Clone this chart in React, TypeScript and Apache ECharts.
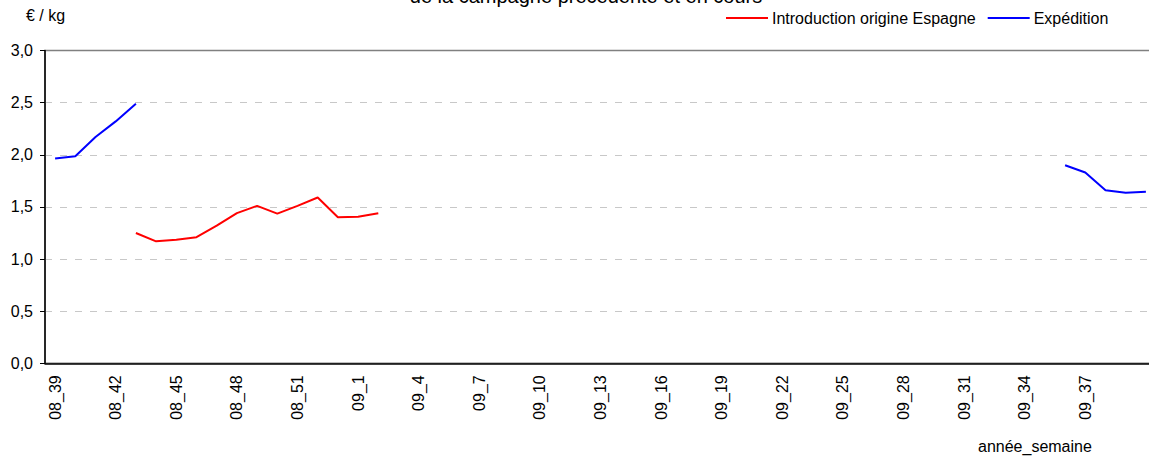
import React, { useEffect, useRef } from "react";
import * as echarts from "echarts";

const weeks2008 = ["08_39","08_40","08_41","08_42","08_43","08_44","08_45","08_46","08_47","08_48","08_49","08_50","08_51","08_52","08_53"];
const weeks2009: string[] = [
  "09_1","09_2","09_3","09_4","09_5","09_6","09_7","09_8","09_9","09_10",
  "09_11","09_12","09_13","09_14","09_15","09_16","09_17","09_18","09_19","09_20",
  "09_21","09_22","09_23","09_24","09_25","09_26","09_27","09_28","09_29","09_30",
  "09_31","09_32","09_33","09_34","09_35","09_36","09_37","09_38","09_39","09_40",
];
const categories = [...weeks2008, ...weeks2009];
const lastLabelled = "09_37";

// Introduction origine Espagne (08_43 .. 09_2)
const introductionStart = "08_43";
const introductionValues = [1.25, 1.17, 1.185, 1.21, 1.32, 1.44, 1.51, 1.435, 1.51, 1.59, 1.40, 1.405, 1.44];

// Expédition: campagne précédente (08_39 .. 08_43) et en cours (09_36 .. 09_40)
const expeditionStart1 = "08_39";
const expeditionValues1 = [1.965, 1.985, 2.17, 2.32, 2.49];
const expeditionStart2 = "09_36";
const expeditionValues2 = [1.9, 1.83, 1.66, 1.635, 1.645];

const yTicks = [0, 0.5, 1, 1.5, 2, 2.5, 3];

function place(parts: [string, number[]][]): (number | null)[] {
  const out: (number | null)[] = categories.map(() => null);
  for (const [start, vals] of parts) {
    const s = categories.indexOf(start);
    vals.forEach((v, i) => (out[s + i] = v));
  }
  return out;
}

const FONT = "'Liberation Sans', Arial, sans-serif";

export default function App() {
  const ref = useRef<HTMLDivElement>(null);
  useEffect(() => {
    if (!ref.current) return;
    const chart = echarts.init(ref.current, undefined, { renderer: "svg" });
    const lastIdx = categories.indexOf(lastLabelled);
    chart.setOption({
      animation: false,
      backgroundColor: "#ffffff",
      textStyle: { fontFamily: FONT },
      grid: {
        left: 45,
        top: 50.5,
        right: 0,
        bottom: 95.7,
        show: true,
        borderColor: "#808080",
        borderWidth: 1.5,
        containLabel: false,
      },
      legend: {
        left: 721,
        top: 5,
        icon: "rect",
        itemWidth: 42,
        itemHeight: 2,
        itemGap: 12,
        textStyle: { fontSize: 16, color: "#000", fontFamily: FONT, padding: [0, 0, 0, -1] },
        data: ["Introduction origine Espagne", "Expédition"],
      },
      graphic: [
        {
          type: "text",
          left: 26,
          top: 7,
          style: { text: "€ / kg", fontSize: 16, fontFamily: FONT, fill: "#000" },
        },
        {
          type: "text",
          x: 586,
          y: -4,
          style: {
            text: "de la campagne précédente et en cours",
            fontSize: 20,
            fontFamily: FONT,
            fill: "#000",
            align: "center",
            verticalAlign: "middle",
          },
        },
        {
          type: "text",
          left: 978,
          top: 438,
          style: { text: "année_semaine", fontSize: 16, fontFamily: FONT, fill: "#000" },
        },
      ],
      xAxis: {
        type: "category",
        data: categories,
        boundaryGap: true,
        axisLine: { lineStyle: { color: "#000", width: 1.5 } },
        axisTick: { interval: 2, length: 5, lineStyle: { color: "#000", width: 1 } },
        axisLabel: {
          interval: (i: number) => i % 3 === 0 && i <= lastIdx,
          rotate: 90,
          margin: 12,
          fontSize: 16,
          color: "#000",
          fontFamily: FONT,
        },
        splitLine: { show: false },
      },
      yAxis: {
        type: "value",
        min: yTicks[0],
        max: yTicks[yTicks.length - 1],
        interval: 0.5,
        axisLine: { show: true, lineStyle: { color: "#000", width: 1.5 } },
        axisTick: { show: true, length: 5, lineStyle: { color: "#000", width: 1 } },
        axisLabel: {
          margin: 12,
          fontSize: 16,
          color: "#000",
          fontFamily: FONT,
          formatter: (v: number) => v.toFixed(1).replace(".", ","),
        },
        splitLine: {
          show: true,
          showMaxLine: false,
          showMinLine: false,
          lineStyle: { color: "#c8c8c8", type: [7, 8], width: 1 },
        },
      },
      series: [
        {
          name: "Introduction origine Espagne",
          type: "line",
          data: place([[introductionStart, introductionValues]]),
          symbol: "none",
          connectNulls: false,
          lineStyle: { color: "#ff0000", width: 2 },
          itemStyle: { color: "#ff0000" },
        },
        {
          name: "Expédition",
          type: "line",
          data: place([
            [expeditionStart1, expeditionValues1],
            [expeditionStart2, expeditionValues2],
          ]),
          symbol: "none",
          connectNulls: false,
          lineStyle: { color: "#0000ff", width: 2 },
          itemStyle: { color: "#0000ff" },
        },
      ],
    });
    return () => chart.dispose();
  }, []);
  return (
    <div
      style={{ position: "absolute", left: 0, top: 0, width: 1149, height: 459, overflow: "hidden" }}
    >
      <div ref={ref} style={{ position: "absolute", left: 0, top: 0, width: 1156, height: 459 }} />
    </div>
  );
}
